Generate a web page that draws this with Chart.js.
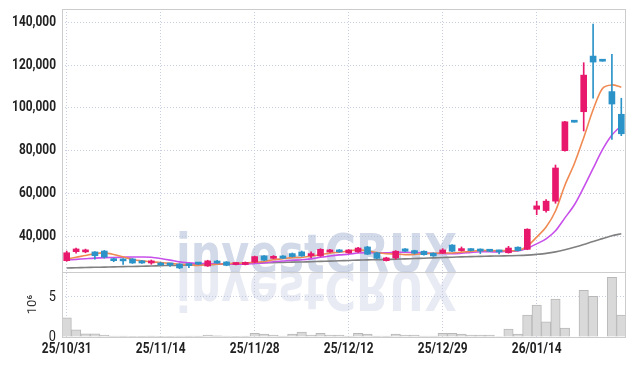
<!DOCTYPE html>
<html>
<head>
<meta charset="utf-8">
<script src="https://cdn.jsdelivr.net/npm/chart.js@4"></script>
<style>
  html, body { margin: 0; padding: 0; background: #fff; }
  #wrap { width: 635px; height: 366px; }
</style>
</head>
<body>
<div id="wrap"><canvas id="chart" width="635" height="366"></canvas></div>
<script>
// trading days shown on the x axis
const DATES = [
  '25/10/31', '25/11/03', '25/11/04', '25/11/05', '25/11/06', '25/11/07', '25/11/10', '25/11/11', '25/11/12', '25/11/13',
  '25/11/14', '25/11/17', '25/11/18', '25/11/19', '25/11/20', '25/11/21', '25/11/24', '25/11/25', '25/11/26', '25/11/27',
  '25/11/28', '25/12/01', '25/12/02', '25/12/03', '25/12/04', '25/12/05', '25/12/08', '25/12/09', '25/12/10', '25/12/11',
  '25/12/12', '25/12/15', '25/12/16', '25/12/17', '25/12/18', '25/12/19', '25/12/22', '25/12/23', '25/12/24', '25/12/26',
  '25/12/29', '25/12/30', '26/01/02', '26/01/05', '26/01/06', '26/01/07', '26/01/08', '26/01/09', '26/01/12', '26/01/13',
  '26/01/14', '26/01/15', '26/01/16', '26/01/19', '26/01/20', '26/01/21', '26/01/22', '26/01/23', '26/01/26', '26/01/27'
];

const OPENS = [
  28600, 32800, 32700, 32700, 33100, 29300, 29400, 29400, 28500, 27500,
  27500, 27200, 27000, 26800, 27400, 26100, 28400, 28000, 26800, 26800,
  27900, 30800, 29700, 30800, 31900, 32700, 30900, 30800, 32700, 33600,
  32200, 32700, 35000, 32300, 28600, 29900, 34100, 33300, 33000, 32100,
  32100, 35900, 33300, 34100, 33900, 33300, 33300, 32300, 34900, 33900,
  52600, 52000, 56400, 80000, 93300, 98200, 124200, 121800, 107600, 97000
];
const HIGHS = [
  33100, 34500, 34000, 32900, 33400, 29800, 29600, 29600, 28700, 28900,
  27800, 27400, 27200, 27000, 27600, 28800, 28700, 28200, 27600, 28000,
  30700, 31000, 31000, 31000, 32200, 33100, 32700, 34200, 33900, 33800,
  33800, 34800, 35300, 32500, 30200, 33300, 34300, 33500, 33200, 32300,
  34200, 36100, 35000, 34300, 34100, 33500, 33500, 35300, 35100, 43500,
  56400, 57200, 73300, 93700, 93300, 121100, 139100, 121800, 125000, 104500
];
const LOWS = [
  28300, 32100, 32300, 29300, 29800, 28100, 26900, 27300, 27300, 26900,
  26300, 25900, 24900, 25300, 26800, 25900, 27300, 26200, 26600, 26600,
  27700, 28600, 29500, 29500, 30300, 30600, 30000, 30600, 32500, 32500,
  32000, 32500, 31400, 29500, 28400, 29300, 32800, 31700, 31200, 30600,
  31900, 32800, 33100, 33100, 31900, 32800, 31700, 32100, 33100, 33700,
  50100, 51300, 55400, 79800, 93300, 89200, 104500, 121800, 85300, 87000
];
const CLOSES = [
  32300, 34070, 33600, 30900, 30300, 28600, 28500, 27500, 27500, 28500,
  26600, 26600, 25200, 26300, 27000, 28500, 27500, 26400, 27400, 27800,
  30500, 28800, 30600, 29700, 30500, 30800, 31900, 33900, 33600, 32700,
  33600, 34500, 31600, 29700, 29900, 33000, 33000, 32100, 31400, 30800,
  33600, 33000, 34100, 33300, 33100, 33000, 32700, 34500, 33300, 43300,
  54200, 56400, 71900, 93500, 93300, 115300, 121400, 121800, 101800, 87900
];

// moving averages
const MA5 = [
  29300, 30200, 31000, 31900, 32230, 31490, 30380, 29160, 28480, 28120,
  27720, 27340, 26880, 26640, 26340, 26720, 26900, 27140, 27360, 27520,
  27920, 28180, 29020, 29480, 30020, 30080, 30700, 31360, 32140, 32580,
  33140, 33660, 33200, 32420, 31860, 31740, 31440, 31540, 31880, 32060,
  32180, 32180, 32580, 32960, 33420, 33300, 33240, 33320, 33320, 35360,
  39600, 44340, 51820, 63860, 73860, 86080, 99080, 109060, 110720, 109640
];
const MA10 = [
  28900, 29200, 29500, 29800, 30000, 30100, 30200, 30300, 30300, 30180,
  29610, 28860, 28020, 27560, 27230, 27220, 27120, 27010, 27000, 26930,
  27320, 27540, 28080, 28420, 28770, 29000, 29440, 30190, 30810, 31300,
  31610, 32180, 32280, 32280, 32220, 32440, 32550, 32370, 32150, 31960,
  31960, 31810, 32060, 32420, 32740, 32740, 32710, 32950, 33140, 34390,
  36450, 38790, 42570, 48590, 54610, 62840, 71710, 80440, 87290, 91750
];
const MA60 = [
  25200, 25300, 25400, 25500, 25600, 25700, 25800, 25900, 26000, 26100,
  26250, 26350, 26450, 26550, 26650, 26750, 26900, 27050, 27200, 27350,
  27500, 27600, 27700, 27800, 27900, 28000, 28100, 28250, 28400, 28550,
  28700, 28850, 28950, 29050, 29150, 29300, 29450, 29600, 29750, 29900,
  30050, 30200, 30350, 30500, 30600, 30700, 30800, 30900, 31000, 31200,
  31550, 32000, 32700, 33700, 34900, 36200, 37600, 38900, 40200, 41200
];

const VOLUMES = [
  2400000, 900000, 410000, 410000, 250000, 120000, 100000, 90000, 90000, 100000,
  90000, 80000, 120000, 100000, 110000, 250000, 150000, 120000, 30000, 100000,
  460000, 370000, 250000, 120000, 370000, 600000, 250000, 460000, 250000, 250000,
  120000, 460000, 370000, 110000, 110000, 370000, 250000, 250000, 120000, 120000,
  460000, 460000, 370000, 250000, 250000, 250000, 60000, 990000, 370000, 2730000,
  3970000, 1900000, 4710000, 1110000, 0, 5830000, 5080000, 0, 7440000, 2730000
];

const PRICE_TICKS = [40000, 60000, 80000, 100000, 120000, 140000];
const VOLUME_TICKS = [0, 5000000];

const UP = '#e8186c';
const DOWN = '#2b93c8';
const GRID = '#c6cee0';
const FRAME = '#cccccc';
const LABEL_FONT = 'Roboto, "Liberation Sans", sans-serif';

const candleColors = OPENS.map((o, i) => CLOSES[i] > o ? UP : DOWN);

// big "investCRUX" mark with its mirror image
const watermark = {
    id: 'watermark',
    beforeDatasetsDraw(chart) {
        const ctx = chart.ctx;
        const text = 'investCRUX';
        ctx.save();
        ctx.font = 'bold 53px "DejaVu Sans", sans-serif';
        const sx = 281 / ctx.measureText(text).width;
        ctx.textBaseline = 'alphabetic';
        ctx.translate(176, 272);
        ctx.scale(sx, 1);
        ctx.fillStyle = 'rgba(178,189,216,0.58)';
        ctx.fillText(text, 0, 0);
        ctx.scale(1, -1);
        ctx.fillStyle = 'rgba(178,189,216,0.3)';
        ctx.fillText(text, 0, 0);
        ctx.restore();
    }
};

// plot frame and the line between price and volume panels
const frame = {
    id: 'frame',
    afterDatasetsDraw(chart) {
        const { ctx, chartArea } = chart;
        const sep = Math.round(chart.scales.y.bottom) + 0.5;
        ctx.save();
        ctx.strokeStyle = FRAME;
        ctx.lineWidth = 1;
        ctx.strokeRect(Math.round(chartArea.left) + 0.5, Math.round(chartArea.top) + 0.5,
            Math.round(chartArea.width) - 1, Math.round(chartArea.height));
        ctx.beginPath();
        ctx.moveTo(chartArea.left, sep);
        ctx.lineTo(chartArea.right, sep);
        ctx.stroke();
        ctx.restore();
    }
};

// tick labels in a condensed face, placed with the chart's own scales
function narrowText(ctx, text, x, y, align, font) {
    ctx.save();
    ctx.font = font;
    ctx.textAlign = align;
    ctx.textBaseline = 'middle';
    ctx.translate(x, y);
    ctx.scale(0.85, 1);
    ctx.fillText(text, 0, 0);
    ctx.restore();
}

const tickLabels = {
    id: 'tickLabels',
    afterDraw(chart) {
        const { ctx, scales } = chart;
        ctx.save();
        ctx.fillStyle = '#222';
        const bold = 'bold 14px ' + LABEL_FONT;
        PRICE_TICKS.forEach(v => {
            narrowText(ctx, v.toLocaleString('en-US'), 56, scales.y.getPixelForValue(v), 'right', bold);
        });
        VOLUME_TICKS.forEach(v => {
            narrowText(ctx, String(v / 1000000), 56, scales.yv.getPixelForValue(v), 'right', '15px ' + LABEL_FONT);
        });
        DATES.forEach((d, i) => {
            if (i % 10 === 0) narrowText(ctx, d, scales.x.getPixelForValue(i), 349, 'center', bold);
        });
        ctx.restore();
    }
};

new Chart(document.getElementById('chart'), {
    type: 'bar',
    data: {
        labels: DATES,
        datasets: [
            {
                label: 'wick',
                data: LOWS.map((l, i) => [l, HIGHS[i]]),
                backgroundColor: candleColors,
                barThickness: 1,
                grouped: false,
                yAxisID: 'y',
                order: 1
            },
            {
                label: 'body',
                data: OPENS.map((o, i) => [o, CLOSES[i]]),
                backgroundColor: candleColors,
                barThickness: 6,
                minBarLength: 2,
                grouped: false,
                yAxisID: 'y',
                order: 0
            },
            {
                type: 'line', label: 'MA60', data: MA60, yAxisID: 'y',
                borderColor: '#808080', borderWidth: 1.6, pointRadius: 0, tension: 0.3, order: 4
            },
            {
                type: 'line', label: 'MA10', data: MA10, yAxisID: 'y',
                borderColor: '#c850ea', borderWidth: 1.6, pointRadius: 0, tension: 0.3, order: 3
            },
            {
                type: 'line', label: 'MA5', data: MA5, yAxisID: 'y',
                borderColor: '#f08a52', borderWidth: 1.6, pointRadius: 0, tension: 0.3, order: 2
            },
            {
                label: 'volume',
                data: VOLUMES,
                backgroundColor: '#d9d9d9',
                borderColor: '#b8b8b8',
                borderWidth: 1,
                barPercentage: 1,
                categoryPercentage: 1,
                grouped: false,
                yAxisID: 'yv',
                order: 5
            }
        ]
    },
    options: {
        responsive: false,
        animation: false,
        devicePixelRatio: 1,
        layout: { padding: { top: 9, right: 9, left: 0, bottom: 0 } },
        plugins: { legend: { display: false }, tooltip: { enabled: false } },
        scales: {
            x: {
                offset: true,
                grid: {
                    offset: false,
                    drawTicks: false,
                    color: c => (c.index % 10 === 0 ? GRID : 'rgba(0,0,0,0)')
                },
                border: { display: false, dash: [1, 2] },
                ticks: { display: false, autoSkip: false },
                afterFit: s => { s.height = 29; }
            },
            yv: {
                position: 'left',
                stack: 'panels',
                stackWeight: 65,
                min: 0,
                max: 8100000,
                grid: { color: GRID, drawTicks: false },
                border: { display: false, dash: [1, 2] },
                title: {
                    display: true,
                    text: '10⁶',
                    color: '#333',
                    padding: { top: 25, bottom: 0 },
                    font: { family: LABEL_FONT, size: 13 }
                },
                ticks: { display: false },
                afterBuildTicks: s => { s.ticks = VOLUME_TICKS.map(v => ({ value: v })); },
                afterFit: s => { s.width = 62; }
            },
            y: {
                position: 'left',
                stack: 'panels',
                stackWeight: 263,
                min: 23300,
                max: 146200,
                grid: { color: GRID, drawTicks: false },
                border: { display: false, dash: [1, 2] },
                ticks: { display: false },
                afterBuildTicks: s => { s.ticks = PRICE_TICKS.map(v => ({ value: v })); },
                afterFit: s => { s.width = 62; }
            }
        }
    },
    plugins: [watermark, frame, tickLabels]
});
</script>
</body>
</html>
